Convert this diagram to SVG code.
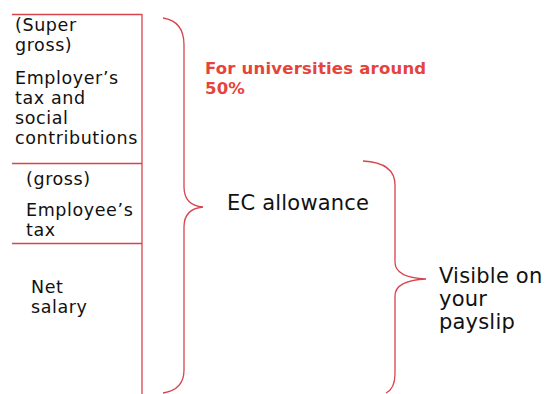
<svg xmlns="http://www.w3.org/2000/svg" width="545" height="394" viewBox="0 0 545 394">
<style>
.ln{stroke:#d8434c;stroke-width:1.3;fill:none}
.t{font-family:"DejaVu Sans",Verdana,sans-serif;font-size:17.5px;letter-spacing:0.6px;fill:#111}
.b{font-family:"DejaVu Sans",Verdana,sans-serif;font-size:21px;letter-spacing:0.2px;fill:#111}
.r{font-family:"DejaVu Sans",Verdana,sans-serif;font-size:16.5px;font-weight:bold;letter-spacing:0.2px;fill:#e4443c}
</style>
<rect width="545" height="394" fill="#fff"/>
<g id="connectors">
<line class="ln" x1="12" y1="14.5" x2="142" y2="14.5"/>
<line class="ln" x1="12" y1="163.5" x2="142" y2="163.5"/>
<line class="ln" x1="12" y1="243.5" x2="142" y2="243.5"/>
<line class="ln" x1="142" y1="14" x2="142" y2="394"/>
<path class="ln" d="M163,18 C176,20 184,28 184,45 L184,187 C184,200 192,206 203,207 C192,208 184,214 184,227 L184,370 C184,384 176,391 163,393"/>
<path class="ln" d="M363,161 C382,162 395,168 395,185 L395,262 C395,272 404,278 426,279 C404,280 395,286 395,296 L395,374 C395,384 392,390 386,393"/>
</g>
<g id="super-gross">
<text class="t" x="15" y="31">(Super</text>
<text class="t" x="15" y="51">gross)</text>
<text class="t" x="15" y="84">Employer’s</text>
<text class="t" x="15" y="104">tax and</text>
<text class="t" x="15" y="124">social</text>
<text class="t" x="15" y="144">contributions</text>
</g>
<g id="gross">
<text class="t" x="26" y="185">(gross)</text>
<text class="t" x="26" y="216">Employee’s</text>
<text class="t" x="26" y="236">tax</text>
</g>
<g id="net">
<text class="t" x="31" y="293">Net</text>
<text class="t" x="31" y="313">salary</text>
</g>
<g id="note">
<text class="r" x="205" y="74">For universities around</text>
<text class="r" x="205" y="94">50%</text>
</g>
<g id="ec">
<text class="b" x="227" y="210">EC allowance</text>
</g>
<g id="visible">
<text class="b" x="439" y="283">Visible on</text>
<text class="b" x="439" y="306">your</text>
<text class="b" x="439" y="329">payslip</text>
</g>
</svg>
